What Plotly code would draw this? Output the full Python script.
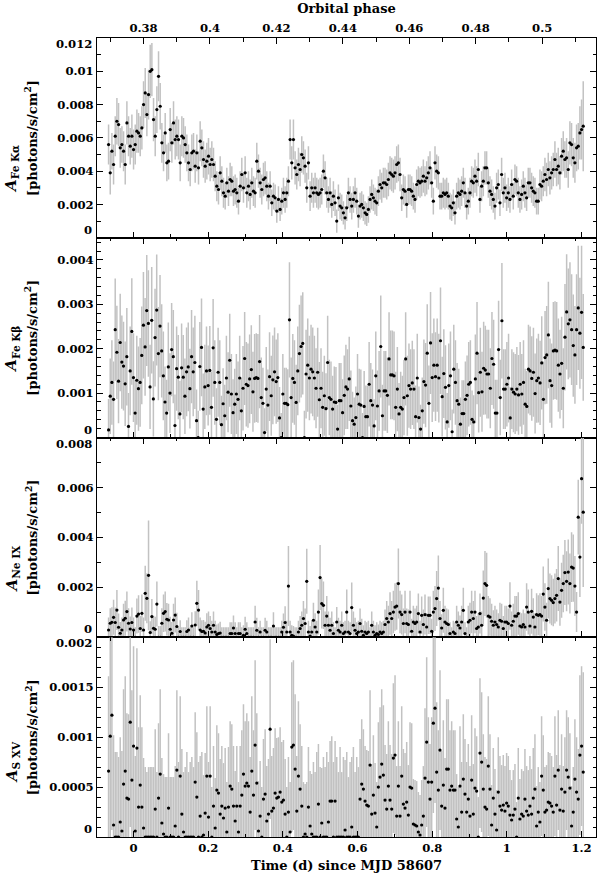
import numpy as np
import plotly.graph_objects as go

FONT = "DejaVu Serif"

# time bins, d since MJD 58607 (first and last bin centre)
T_FIRST = -0.067
T_LAST = 1.2045
T_RANGE = [-0.098, 1.2387]
PHASE_RANGE = [0.3660, 0.5162]

# Fe K alpha line, units of 1e-4 photons/s/cm^2
fe_ka = [
    56, 39, 52, 44, 61, 70, 68, 54, 56, 52, 44, 69, 61, 55, 61, 53, 56, 64, 63, 61,
    66, 80, 87, 74, 86, 100, 101, 71, 61, 77, 97, 79, 57, 51, 63, 45, 46, 65, 57, 69,
    59, 61, 59, 45, 61, 60, 56, 51, 45, 41, 51, 52, 43, 51, 42, 58, 54, 47, 43, 46,
    49, 44, 47, 44, 37, 31, 29, 39, 34, 27, 25, 33, 28, 35, 34, 28, 29, 27, 22, 31,
    38, 30, 39, 27, 31, 26, 33, 28, 27, 46, 40, 33, 29, 35, 36, 31, 25, 31, 21, 25,
    24, 16, 23, 17, 22, 27, 23, 27, 34, 59, 45, 59, 42, 38, 44, 41,
    50, 48, 43, 30, 45, 25, 30, 27, 30, 27, 26, 27, 29, 40, 36, 27, 23, 27, 20, 25,
    21, 10, 24, 19, 18, 15, 12, 18, 27, 23, 19, 23, 27, 22, 13, 19, 20, 18, 15, 14,
    17, 23, 26, 24, 22, 21, 28, 32, 30, 33, 33, 32, 35, 39, 38, 37, 39, 44, 45, 38,
    24, 29, 28, 20, 29, 29, 28, 25, 23, 32, 34, 33, 34, 37, 34, 36, 39, 42, 33, 22,
    45, 40, 39, 25, 25, 27, 26, 27, 25, 19, 18, 21, 15, 25, 27, 26, 28, 33, 27, 19,
    22, 27, 34, 33, 37, 34, 41, 23, 31, 34, 42, 42, 33, 28, 26, 23, 19, 30, 32, 21,
    38, 27, 30, 24, 27, 23, 32, 25, 35, 34, 27, 23, 26, 31, 27, 24, 33, 33, 30, 28,
    27, 22, 22, 32, 31, 34, 38, 35, 41, 36, 39, 41, 47, 41, 43, 39, 49, 52, 47, 48,
    41, 57, 56, 48, 45, 54, 55, 63, 65, 67,
]
fe_ka_err = [
    12, 13, 11, 12, 12, 14, 13, 12, 11, 12, 12, 13, 12, 11, 13, 12, 12, 13, 12, 12,
    13, 14, 15, 13, 15, 16, 16, 13, 12, 14, 15, 14, 12, 11, 12, 11, 11, 13, 12, 13,
    12, 12, 12, 11, 12, 12, 11, 11, 11, 10, 11, 11, 10, 11, 10, 12, 11, 11, 10, 11,
    11, 10, 11, 10, 9, 9, 9, 10, 9, 9, 8, 9, 9, 10, 9, 9, 9, 9, 8, 9,
    10, 9, 10, 9, 9, 9, 9, 9, 9, 11, 10, 9, 9, 10, 10, 9, 8, 9, 8, 8,
    8, 7, 8, 7, 8, 9, 8, 9, 9, 12, 10, 12, 10, 9, 10, 10,
    11, 10, 10, 9, 10, 9, 9, 9, 9, 9, 9, 9, 9, 10, 10, 9, 8, 9, 8, 9,
    8, 7, 8, 8, 8, 7, 7, 8, 9, 8, 8, 8, 9, 8, 7, 8, 8, 8, 7, 7,
    8, 8, 9, 8, 8, 8, 9, 9, 9, 9, 9, 9, 10, 10, 10, 10, 10, 11, 11, 10,
    8, 9, 9, 8, 9, 9, 9, 8, 8, 9, 9, 9, 9, 10, 9, 10, 10, 10, 9, 8,
    10, 10, 10, 8, 8, 9, 9, 9, 8, 8, 8, 8, 7, 8, 9, 9, 9, 9, 9, 8,
    8, 9, 9, 9, 10, 9, 10, 8, 9, 9, 10, 10, 9, 9, 9, 8, 8, 9, 9, 8,
    10, 9, 9, 8, 9, 8, 9, 8, 9, 9, 9, 8, 9, 9, 9, 8, 9, 9, 9, 9,
    9, 8, 8, 9, 9, 9, 10, 10, 10, 10, 10, 10, 11, 10, 11, 10, 11, 12, 11, 12,
    11, 13, 13, 12, 12, 14, 14, 16, 18, 27,
]

# Fe K beta line, units of 1e-5 photons/s/cm^2
fe_kb = [
    17, 93, 124, 86, 243, 192, 127, 214, 170, 161, 121, 182, 25, 150, 239, 135, 55, 129, 110, 124,
    185, 253, 204, 286, 257, 114, 264, 87, 225, 287, 189, 251, 195, 139, 80, 55, 159, 100, 198, 182,
    27, 155, 136, 53, 157, 136, 93, 148, 159, 110, 182, 148, 169, 38, 0, 160, 203,
    64, 114, 150, 117, 151, 68, 202, 124, 41, 147, 124, 29, 76, 49, 134, 102, 174, 98, 56, 75,
    98, 86, 134, 60, 111, 178, 120, 117, 132, 153, 103, 133, 135, 133, 171, 90, 77, 11, 109, 73,
    137, 94, 130, 148, 126, 135, 44, 0, 98, 77, 77, 74, 265, 90, 133, 124, 79, 150, 189, 205,
    212, 0, 143, 163, 134, 154, 148, 134, 111, 147, 85, 111, 68, 94, 65, 169, 90, 86, 64, 80,
    79, 19, 83, 83, 56, 95, 114, 109, 132, 71, 38, 30, 45, 98, 75, 73, 0, 70, 47, 47,
    120, 83, 73, 26, 139, 71, 105, 205, 49, 105, 105, 95, 177, 141, 141, 139, 68, 109, 53, 68,
    64, 90, 177, 94, 117, 109, 123, 109, 47, 134, 45, 19, 60, 126, 118, 190, 77, 213, 135, 163,
    137, 163, 134, 218, 92, 144, 113, 35, 117, 139, 13, 154, 124, 83, 75, 30, 54, 54, 86, 95,
    120, 124, 41, 35, 132, 190, 101, 147, 103, 156, 152, 143, 143, 111, 178, 165, 55, 55, 198, 90,
    263, 109, 109, 120, 134, 44, 109, 102, 98, 109, 96, 120, 98, 124, 75, 70, 154, 150, 133, 147,
    99, 128, 134, 123, 168, 86, 180, 186, 231, 128, 117, 195, 197, 195, 163, 143, 167, 111, 226, 283,
    256, 265, 243, 207, 186, 243, 292, 235, 282, 203,
]
fe_kb_err = [
    70, 85, 95, 85, 115, 105, 95, 110, 105, 100, 95, 110, 75, 100, 120, 100, 75, 100, 95, 100,
    110, 120, 110, 125, 120, 95, 120, 85, 110, 125, 105, 115, 105, 100, 80, 75, 100, 90, 105, 105,
    70, 95, 95, 75, 100, 95, 85, 100, 100, 90, 105, 100, 105, 70, 60, 100, 110,
    80, 95, 100, 90, 100, 80, 110, 95, 70, 100, 95, 65, 80, 70, 95, 90, 105, 90, 75, 80,
    90, 85, 95, 75, 95, 105, 95, 95, 100, 100, 90, 100, 100, 100, 105, 90, 80, 55, 95, 80,
    100, 90, 100, 100, 95, 100, 70, 55, 90, 80, 80, 80, 130, 90, 100, 95, 85, 100, 110, 115,
    115, 60, 100, 105, 95, 100, 100, 95, 90, 100, 85, 90, 80, 90, 80, 105, 85, 85, 75, 80,
    80, 55, 85, 85, 75, 90, 95, 90, 95, 80, 65, 60, 70, 90, 80, 80, 55, 80, 70, 70,
    95, 85, 80, 60, 100, 80, 90, 115, 70, 90, 90, 85, 105, 100, 100, 100, 80, 95, 70, 80,
    75, 85, 105, 90, 95, 90, 95, 90, 70, 100, 70, 55, 75, 95, 95, 110, 85, 115, 100, 105,
    100, 105, 100, 120, 90, 100, 95, 65, 95, 100, 50, 100, 95, 85, 80, 60, 75, 75, 85, 90,
    95, 95, 65, 60, 100, 115, 90, 100, 90, 105, 100, 100, 100, 90, 105, 100, 75, 75, 110, 85,
    130, 90, 90, 95, 100, 70, 90, 90, 90, 95, 90, 95, 90, 95, 80, 80, 100, 100, 95, 100,
    90, 95, 100, 95, 105, 85, 105, 110, 120, 95, 95, 110, 110, 110, 105, 100, 105, 90, 120, 130,
    125, 130, 125, 115, 110, 125, 140, 125, 150, 120,
]

# Ne IX line, units of 1e-5 photons/s/cm^2
ne9 = [
    29, 56, 60, 80, 59, 109, 40, 16, 29, 69, 76, 103, 56, 33, 59, 29, 0, 85, 93, 35,
    96, 29, 176, 156, 248, 19, 83, 36, 32, 133, 0, 0, 56, 96, 103, 72, 69, 32, 16, 69,
    89, 43, 0, 23, 0, 0, 0, 23, 29, 0, 45, 0, 49, 136, 109, 29, 23,
    24, 17, 41, 48, 35, 21, 48, 21, 11, 15, 17, 0, 0, 0, 0, 0, 15, 15, 37, 15,
    0, 15, 15, 0, 8, 32, 15, 0, 0, 0, 0, 61, 28, 0, 21, 0, 0, 28, 21, 0,
    0, 0, 45, 0, 0, 0, 0, 21, 40, 59, 21, 205, 21, 8, 5, 0, 0, 21, 35, 48,
    75, 55, 224, 21, 5, 21, 68, 41, 21, 101, 239, 135, 128, 48, 85, 48, 28, 48, 15, 0,
    61, 28, 21, 48, 15, 21, 101, 21, 15, 119, 48, 28, 15, 21, 55, 24, 8, 21, 15, 21,
    0, 48, 21, 8, 15, 11, 21, 15, 21, 51, 75, 61, 95, 75, 101, 121, 125, 215, 101, 91,
    55, 101, 55, 51, 101, 24, 61, 55, 61, 95, 21, 88, 51, 91, 41, 88, 88, 24, 101, 115,
    155, 197, 75, 37, 108, 61, 55, 51, 15, 0, 21, 15, 61, 48, 37, 61, 108, 15, 0, 61,
    68, 101, 75, 101, 35, 41, 95, 48, 157, 215, 208, 85, 81, 64, 48, 61, 51, 41, 68, 64,
    35, 61, 61, 55, 125, 48, 64, 85, 85, 95, 45, 41, 51, 41, 121, 101, 45, 104, 81, 41,
    91, 88, 91, 85, 173, 121, 68, 195, 155, 148, 139, 155, 168, 235, 141, 188, 215, 259, 224, 261,
    215, 281, 277, 205, 101, 481, 321, 635, 501,
]
ne9_err = [
    50, 60, 60, 70, 60, 80, 55, 45, 50, 65, 70, 80, 60, 50, 60, 50, 40, 70, 75, 50,
    75, 50, 110, 100, 220, 45, 70, 50, 50, 90, 45, 45, 60, 75, 80, 65, 65, 50, 45, 65,
    70, 55, 40, 45, 40, 40, 40, 45, 50, 40, 55, 40, 55, 90, 80, 50, 45,
    45, 45, 55, 55, 50, 45, 55, 45, 40, 40, 45, 40, 40, 40, 40, 40, 45, 45, 50, 45,
    40, 45, 45, 40, 40, 50, 45, 40, 40, 40, 40, 65, 50, 40, 45, 40, 40, 50, 45, 40,
    40, 40, 55, 40, 40, 40, 40, 45, 55, 65, 45, 160, 45, 40, 40, 40, 40, 45, 50, 55,
    70, 60, 130, 45, 40, 45, 70, 55, 45, 90, 130, 100, 95, 55, 80, 55, 50, 55, 45, 40,
    60, 50, 45, 55, 45, 45, 90, 45, 45, 100, 55, 50, 45, 45, 60, 50, 40, 45, 45, 45,
    40, 55, 45, 40, 45, 40, 45, 45, 45, 60, 70, 65, 85, 70, 85, 95, 95, 140, 85, 80,
    60, 85, 60, 60, 85, 50, 65, 60, 65, 80, 45, 75, 60, 80, 55, 75, 75, 50, 85, 90,
    110, 130, 70, 55, 90, 65, 60, 60, 45, 40, 45, 45, 65, 55, 50, 65, 90, 45, 40, 65,
    70, 85, 70, 85, 50, 55, 80, 55, 110, 130, 130, 80, 75, 70, 60, 65, 60, 55, 70, 70,
    50, 65, 65, 60, 95, 55, 70, 80, 80, 85, 55, 55, 60, 55, 95, 90, 55, 90, 75, 55,
    85, 80, 85, 80, 110, 95, 70, 120, 100, 100, 95, 100, 105, 130, 95, 110, 115, 130, 120, 130,
    120, 140, 135, 120, 80, 150, 160, 180, 300,
]

# S XV line, units of 1e-5 photons/s/cm^2
s15 = [
    66, 101, 122, 12, 0, 0, 0, 15, 6, 53, 66, 39, 38, 115, 57, 91, 6, 89, 30, 52,
    30, 9, 0, 0, 0, 0, 0, 0, 28, 0, 39, 63, 14, 3, 0, 0, 29, 0, 0, 0,
    11, 67, 0, 61, 23, 5, 0, 0, 0, 0, 0, 0, 55, 40, 0, 21, 0, 2, 24, 61,
    20, 61, 0, 31, 9, 47, 44, 23, 31, 19, 29, 5, 30, 51, 48, 31, 16, 31, 5, 31,
    42, 63, 51, 54, 51, 25, 66, 42, 92, 54, 6, 21, 0, 38, 43, 16, 23, 108, 26, 29,
    44, 39, 40, 45, 35, 37, 23, 0, 25, 5, 90, 92, 68, 26, 61, 48, 31, 0, 3, 0,
    30, 11, 3, 0, 0, 0, 33, 0, 14, 0, 0, 0, 15, 36, 36, 0, 36, 0, 0, 0,
    0, 0, 7, 0, 0, 0, 10, 0, 0, 0, 0, 38, 53, 48, 36, 32, 31, 72, 23, 42,
    24, 10, 50, 60, 73, 62, 37, 28, 51, 37, 28, 79, 82, 21, 51, 21, 61, 33, 29, 35,
    22, 50, 49, 13, 12, 11, 5, 2, 12, 21, 59, 95, 55, 38, 55, 114, 129, 65, 47, 87,
    31, 52, 29, 68, 68, 47, 51, 47, 47, 18, 10, 51, 25, 58, 43, 25, 38, 21, 57, 23,
    49, 46, 0, 84, 75, 48, 30, 28, 71, 48, 12, 39, 23, 7, 45, 31, 27, 32, 26, 34,
    31, 22, 17, 22, 28, 0, 39, 18, 23, 21, 38, 26, 22, 31, 23, 39, 48, 11, 25, 15,
    61, 47, 25, 27, 35, 34, 31, 25, 61, 32, 67, 27, 48, 26, 45, 67, 60, 49, 11, 25,
    58, 45, 38, 82, 91, 65,
]
s15_err = [
    95, 110, 115, 90, 85, 85, 80, 85, 80, 95, 95, 85, 85, 105, 90, 100, 75, 100, 80, 90,
    80, 70, 70, 65, 70, 70, 70, 70, 80, 65, 75, 85, 65, 60, 60, 60, 75, 60, 60, 60,
    60, 80, 75, 80, 65, 60, 70, 85, 65, 75, 80, 70, 70, 65, 75, 60, 85, 60, 60, 70,
    55, 70, 50, 60, 50, 65, 60, 55, 60, 55, 60, 50, 60, 65, 65, 60, 50, 60, 50, 60,
    65, 70, 65, 70, 65, 55, 75, 65, 85, 70, 50, 55, 50, 60, 65, 55, 55, 90, 55, 60,
    65, 60, 60, 65, 60, 60, 55, 50, 55, 50, 85, 85, 75, 55, 75, 65, 60, 55, 50, 55,
    60, 55, 60, 75, 65, 85, 60, 70, 55, 80, 70, 85, 60, 60, 65, 75, 60, 80, 65, 90,
    65, 80, 70, 85, 60, 75, 70, 90, 65, 80, 70, 60, 65, 60, 55, 55, 55, 75, 50, 60,
    50, 45, 65, 70, 75, 70, 55, 55, 65, 55, 55, 75, 80, 50, 65, 50, 70, 55, 55, 60,
    50, 65, 65, 45, 45, 45, 40, 40, 45, 50, 70, 85, 65, 55, 65, 90, 95, 70, 60, 80,
    55, 65, 50, 70, 70, 60, 65, 60, 60, 45, 40, 60, 50, 65, 55, 50, 55, 50, 65, 50,
    60, 55, 40, 75, 70, 55, 50, 50, 70, 55, 40, 50, 45, 40, 55, 50, 45, 50, 45, 50,
    50, 45, 40, 45, 45, 35, 50, 40, 45, 45, 50, 45, 45, 50, 45, 50, 55, 40, 45, 40,
    60, 55, 45, 45, 50, 50, 50, 45, 60, 50, 60, 45, 55, 45, 55, 60, 60, 55, 40, 45,
    60, 55, 50, 80, 80, 100,
]

panels = [
    dict(v=fe_ka, e=fe_ka_err, unit=1e-4, sub="Fe K\u03b1", top=0.012, major=0.002, minor=0.001,
         edge=[0, 0.012], ashift=-31),
    dict(v=fe_kb, e=fe_kb_err, unit=1e-5, sub="Fe K\u03b2", top=0.0045, major=0.001, minor=0.0002,
         edge=[0], ashift=-12),
    dict(v=ne9, e=ne9_err, unit=1e-5, sub="Ne IX", top=0.008, major=0.002, minor=0.001,
         edge=[0, 0.008], ashift=-32),
    dict(v=s15, e=s15_err, unit=1e-5, sub="S XV", top=0.002, major=0.0005, minor=0.0001,
         edge=[0, 0.002], ashift=-25),
]

TICKFONT = dict(family=FONT, size=11.6, color="black", weight="bold")
TITLEFONT = dict(family=FONT, size=13, color="black", weight="bold")

fig = go.Figure()

tick_common = dict(showline=True, linecolor="black", linewidth=1, ticks="inside", ticklen=6,
                   tickwidth=1, tickcolor="black", showgrid=False, zeroline=False,
                   tickfont=TICKFONT)
minor_common = dict(ticks="inside", ticklen=3.5, tickwidth=1, tickcolor="black", showgrid=False)

layout = dict(width=598, height=876, margin=dict(l=97, r=2, t=38, b=39),
              plot_bgcolor="white", paper_bgcolor="white", showlegend=False,
              font=dict(family=FONT, size=13, color="black"))
annotations = []

for i, p in enumerate(panels, start=1):
    n = min(len(p["v"]), len(p["e"]))
    vals = np.array(p["v"][:n]) * p["unit"]
    errs = np.array(p["e"][:n]) * p["unit"]
    t = np.linspace(T_FIRST, T_LAST, n)
    sfx = "" if i == 1 else str(i)

    fig.add_trace(go.Scatter(
        x=t, y=vals, mode="markers", xaxis="x" + sfx, yaxis="y" + sfx,
        marker=dict(size=3.2, color="black"),
        error_y=dict(type="data", array=errs, color="#c2c2c2", thickness=1.5, width=0),
        hoverinfo="x+y"))
    # empty trace so the phase axis of this panel is drawn
    fig.add_trace(go.Scatter(x=PHASE_RANGE, y=[-1, -1], mode="markers", marker=dict(opacity=0),
                             xaxis="x" + str(i + 4), yaxis="y" + sfx, hoverinfo="skip"))

    hi = 1 - (i - 1) * 0.25
    lo = 1 - i * 0.25

    major = np.round(np.arange(0, p["top"] + 1e-9, p["major"]), 6)
    minor = np.round(np.arange(0, p["top"] + 1e-9, p["minor"]), 6)
    inner = [m for m in major if not any(abs(m - e) < 1e-9 for e in p["edge"])]

    layout["yaxis" + sfx] = dict(
        tick_common, domain=[lo, hi], anchor="x" + sfx, range=[0, p["top"]],
        tickmode="array", tickvals=inner, ticktext=[f"{m:g}" for m in inner], mirror="ticks",
        minor=dict(minor_common, tickmode="array", tickvals=minor))

    xa = dict(tick_common, anchor="y" + sfx, range=T_RANGE, tickmode="linear", tick0=0, dtick=0.2,
              minor=dict(minor_common, dtick=0.1), showticklabels=(i == 4))
    if i == 4:
        xa["title"] = dict(text="Time (d) since MJD 58607", font=TITLEFONT, standoff=6)
    layout["xaxis" + sfx] = xa

    pa = dict(tick_common, anchor="y" + sfx, overlaying="x" + sfx, side="top", range=PHASE_RANGE,
              tickmode="linear", tick0=0, dtick=0.02, minor=dict(minor_common, dtick=0.01),
              showticklabels=(i == 1))
    if i == 1:
        pa["title"] = dict(text="Orbital phase", font=TITLEFONT, standoff=4)
    layout["xaxis" + str(i + 4)] = pa

    # tick labels at the panel edges, pushed inside the panel
    for e in p["edge"]:
        annotations.append(dict(
            x=0, xref="paper", xanchor="right", xshift=-4, y=e, yref="y" + sfx,
            yshift=-6 if e > 0 else 8, text=f"{e:g}", showarrow=False, borderpad=0,
            font=TICKFONT))

    annotations.append(dict(
        x=0, xref="paper", xanchor="center", xshift=-66, y=0.5, yref="y" + sfx + " domain",
        yanchor="middle", textangle=-90, text="[photons/s/cm<sup>2</sup>]", showarrow=False,
        font=TITLEFONT))
    annotations.append(dict(
        x=0, xref="paper", xanchor="center", xshift=-85, y=0.5, yref="y" + sfx + " domain",
        yanchor="middle", yshift=p["ashift"], textangle=-90,
        text="<i>A</i><sub>" + p["sub"] + "</sub>", showarrow=False,
        font=dict(TITLEFONT, size=15)))

layout["annotations"] = annotations
fig.update_layout(**layout)

fig.write_html("out.html", config={"displayModeBar": False},
               post_script="document.body.style.margin='0';")
